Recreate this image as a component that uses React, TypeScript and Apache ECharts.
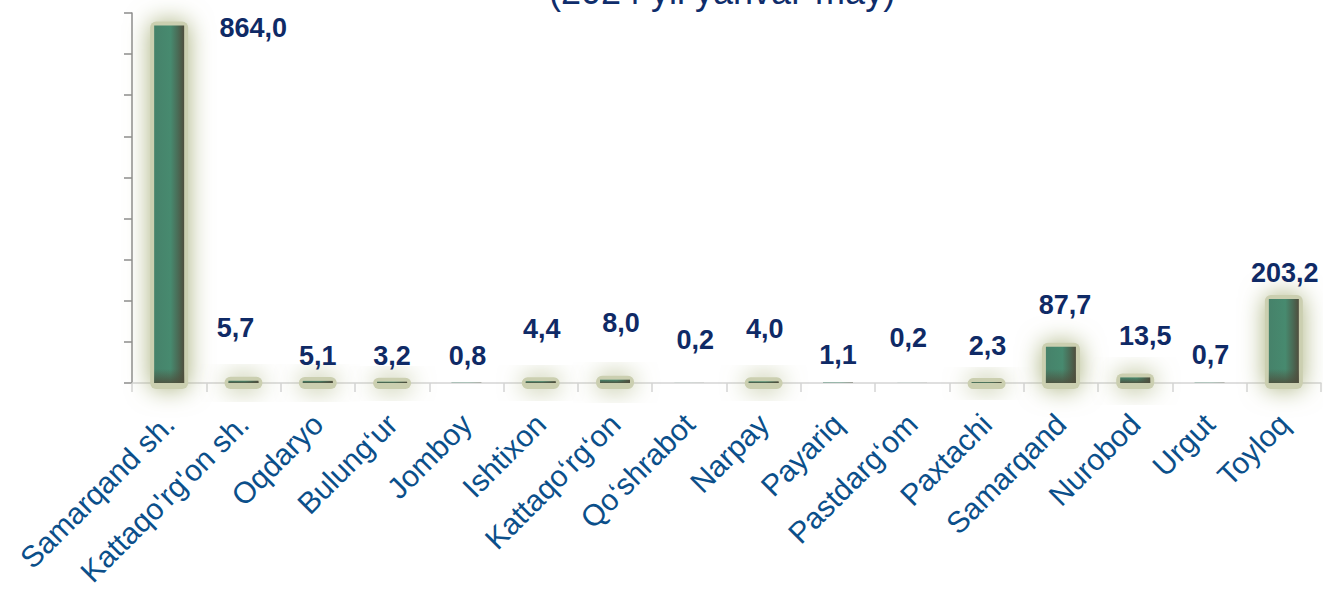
import React, { useEffect, useRef } from "react";
import * as echarts from "echarts";

const categories = [
  "Samarqand sh.",
  "Kattaqo'rg'on sh.",
  "Oqdaryo",
  "Bulung‘ur",
  "Jomboy",
  "Ishtixon",
  "Kattaqo‘rg‘on",
  "Qo‘shrabot",
  "Narpay",
  "Payariq",
  "Pastdarg‘om",
  "Paxtachi",
  "Samarqand",
  "Nurobod",
  "Urgut",
  "Toyloq",
];

const values = [864.0, 5.7, 5.1, 3.2, 0.8, 4.4, 8.0, 0.2, 4.0, 1.1, 0.2, 2.3, 87.7, 13.5, 0.7, 203.2];

const titleText = "(2024 yil yanvar-may)";

// label placement tweaks (layout only, in px)
const labelOffsets: [number, number][] = [
  [84, 16],
  [-8, -39],
  [0, -11.5],
  [0, -12.5],
  [1, -13.5],
  [1, -38.5],
  [6, -43.5],
  [6, -29.5],
  [1, -38.5],
  [0, -14],
  [-4, -31.5],
  [1, -22.5],
  [4, -28.5],
  [10, -27.5],
  [1, -14.5],
  [1, -12.5],
];

const fmt = (v: number) => v.toFixed(1).replace(".", ",");
const BAR_W = 30;

export default function App() {
  const ref = useRef<HTMLDivElement>(null);
  useEffect(() => {
    document.body.style.margin = "0";
    if (!ref.current) return;
    const chart = echarts.init(ref.current, undefined, { renderer: "svg" });
    const yMax = 894;

    const glowItem = (params: any, api: any) => {
      const idx = api.value(0);
      const v = api.value(1);
      const top = api.coord([idx, v]);
      const base = api.coord([idx, 0]);
      const h = base[1] - top[1];
      if (h < 0.9) return null;
      const m = 4;
      return {
        type: "rect",
        shape: { x: top[0] - BAR_W / 2 - m, y: top[1] - m, width: BAR_W + 2 * m, height: h + 2 * m + 2, r: 6 },
        style: {
          fill: "#cbcfb0",
          shadowBlur: 24,
          shadowColor: "rgba(168,176,124,1)",
        },
        silent: true,
      };
    };

    const shadeItem = (params: any, api: any) => {
      const idx = api.value(0);
      const v = api.value(1);
      const top = api.coord([idx, v]);
      const base = api.coord([idx, 0]);
      const h = base[1] - top[1];
      if (h < 0.9) return null;
      const sh = Math.min(h, 14);
      return {
        type: "rect",
        shape: { x: top[0] - BAR_W / 2, y: base[1] - sh, width: BAR_W, height: sh },
        style: {
          fill: new echarts.graphic.LinearGradient(0, 0, 0, 1, [
            { offset: 0, color: "rgba(78,78,60,0)" },
            { offset: 1, color: "rgba(78,78,60,0.85)" },
          ]),
        },
        silent: true,
      };
    };

    const pairs = values.map((v, i) => [i, v]);

    chart.setOption({
      animation: false,
      backgroundColor: "#ffffff",
      graphic: [
        {
          type: "text",
          left: 549,
          top: -27,
          style: {
            text: titleText,
            fontSize: 36,
            fontFamily: "Liberation Sans, Arial, sans-serif",
            fill: "#0f2d6b",
          },
        },
      ],
      grid: {
        left: 132,
        right: 2,
        top: 13,
        bottom: 206,
        containLabel: false,
        outerBoundsMode: "none",
      },
      xAxis: {
        type: "category",
        data: categories,
        boundaryGap: true,
        axisLine: { show: true, lineStyle: { color: "#d4d4d4", width: 1.5 } },
        axisTick: { show: true, length: 9, lineStyle: { color: "#d4d4d4", width: 1.5 } },
        axisLabel: {
          interval: 0,
          rotate: 45,
          margin: 36,
          fontSize: 30,
          color: "#0b4f8a",
          fontFamily: "Liberation Sans, Arial, sans-serif",
        },
      },
      yAxis: {
        type: "value",
        min: 0,
        max: yMax,
        interval: yMax / 9,
        axisLine: { show: true, lineStyle: { color: "#8c8c8c", width: 1.5 } },
        axisTick: { show: true, length: 8, lineStyle: { color: "#8c8c8c", width: 1.5 } },
        axisLabel: { show: false },
        splitLine: { show: false },
      },
      series: [
        {
          type: "custom",
          renderItem: glowItem,
          data: pairs,
          z: 1,
          silent: true,
        },
        {
          type: "bar",
          barWidth: BAR_W,
          z: 2,
          data: values.map((v, i) => ({
            value: v,
            label: { offset: labelOffsets[i] },
          })),
          itemStyle: {
            color: new echarts.graphic.LinearGradient(0, 0, 1, 0, [
              { offset: 0, color: "#46826a" },
              { offset: 0.55, color: "#478a6f" },
              { offset: 0.8, color: "#4a6a55" },
              { offset: 1, color: "#4f4e3d" },
            ]),
          },
          label: {
            show: true,
            position: "top",
            distance: 0,
            formatter: (p: any) => fmt(p.value),
            fontSize: 27,
            fontWeight: "bold",
            color: "#0f2a66",
            fontFamily: "Liberation Sans, Arial, sans-serif",
          },
        },
        {
          type: "custom",
          renderItem: shadeItem,
          data: pairs,
          z: 3,
          silent: true,
        },
      ],
    });
    return () => chart.dispose();
  }, []);
  return (
    <div
      ref={ref}
      style={{ position: "absolute", left: 0, top: 0, width: 1323, height: 589 }}
    />
  );
}
